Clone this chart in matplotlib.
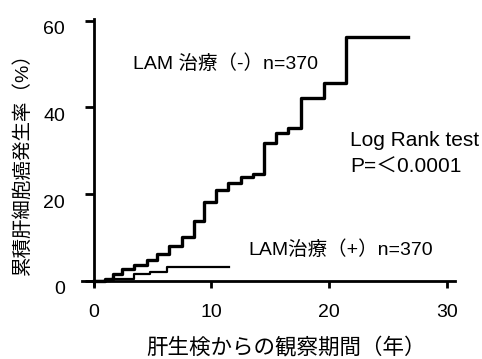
import numpy as np
import matplotlib.pyplot as plt
from matplotlib.transforms import ScaledTranslation

plt.rcParams['font.family'] = ['Liberation Sans', 'Noto Sans CJK JP', 'DejaVu Sans']

# LAM treatment (-) cumulative HCC incidence (step times, %)
t_minus = [0, 1.0, 1.6, 2.4, 3.4, 4.5, 5.4, 6.4, 7.5, 8.5, 9.4, 10.4, 11.4,
           12.5, 13.5, 14.5, 15.5, 16.5, 17.6, 19.6, 21.4, 26.7]
y_minus = [0, 0.5, 1.5, 2.7, 3.6, 4.8, 6.1, 8.0, 10.1, 13.8, 18.2, 20.9, 22.5,
           23.9, 24.7, 31.7, 34.0, 35.2, 42.1, 45.6, 56.2, 56.2]

# LAM treatment (+)
t_plus = [0, 1.5, 3.4, 4.8, 6.2, 11.5]
y_plus = [0, 0.5, 1.5, 1.9, 3.1, 3.1]

xticks = [0, 10, 20, 30]
yticks = [0, 20, 40, 60]

fig = plt.figure(figsize=(4.82, 3.59), dpi=100)
ax = fig.add_axes([0.170, 0.206, 0.774, 0.742])

ax.plot(t_minus, y_minus, drawstyle='steps-post', color='black', lw=2.4)
ax.plot(t_plus, y_plus, drawstyle='steps-post', color='black', lw=1.6)

ax.set_xlim(-1.0, 30.7)
ax.set_ylim(-1.0, 60.5)
for s in ['top', 'right']:
    ax.spines[s].set_visible(False)
ax.spines['left'].set_position(('data', 0))
ax.spines['bottom'].set_position(('data', 0))
ax.spines['left'].set_linewidth(2.0)
ax.spines['bottom'].set_linewidth(2.0)
ax.set_xticks(xticks)
ax.set_yticks(yticks)
ax.tick_params(direction='out', width=2.0, labelsize=14)
ax.tick_params(axis='x', length=5, pad=12)
ax.tick_params(axis='y', length=6.5, pad=14)

# y tick labels sit a little below their ticks in the original
shift = ScaledTranslation(0, -0.07, fig.dpi_scale_trans)
for lab in ax.get_yticklabels():
    lab.set_transform(lab.get_transform() + shift)

fig.text(286 / 482, 0.031, '肝生検からの観察期間（年）', fontsize=15.5,
         ha='center', va='center')
fig.text(0.046, 0.557, '累積肝細胞癌発生率（%）', fontsize=14,
         ha='center', va='center', rotation=90)

ax.text(3.3, 50.1, 'LAM 治療（-）n=370', fontsize=14, va='center')
ax.text(21.8, 32.4, 'Log Rank test', fontsize=15, va='center')
ax.text(21.8, 26.2, 'P=＜0.0001', fontsize=15, va='center')
ax.text(13.1, 7.1, 'LAM治療（+）n=370', fontsize=14, va='center')

fig.savefig('out.png', dpi=100)
